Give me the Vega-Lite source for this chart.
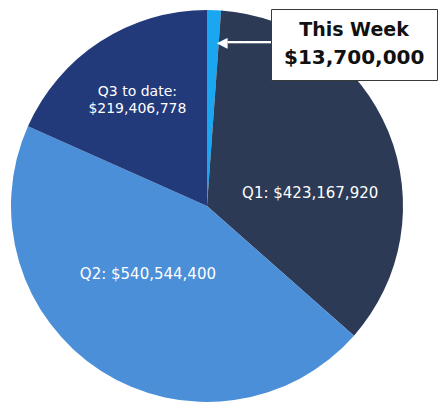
{
  "$schema": "https://vega.github.io/schema/vega-lite/v6.json",
  "width": 440,
  "height": 406,
  "autosize": {"type": "fit", "contains": "padding"},
  "padding": {"left": -25, "right": 1, "top": 7, "bottom": 1},
  "background": "white",
  "config": {"view": {"stroke": null}},
  "datasets": {
    "slices": [
      {"rank": 1, "quarter": "This Week", "amount": 13700000, "label": "This Week: $13,700,000"},
      {"rank": 2, "quarter": "Q1", "amount": 423167920, "label": "Q1: $423,167,920"},
      {"rank": 3, "quarter": "Q2", "amount": 540544400, "label": "Q2: $540,544,400"},
      {"rank": 4, "quarter": "Q3", "amount": 219406778, "label": "Q3 to date:\n$219,406,778"}
    ],
    "note": [{"note": "$13,700,000"}]
  },
  "layer": [
    {
      "data": {"name": "slices"},
      "mark": {"type": "arc", "outerRadius": 196, "stroke": null},
      "encoding": {
        "theta": {"field": "amount", "type": "quantitative", "stack": true},
        "order": {"field": "rank", "type": "quantitative"},
        "color": {
          "field": "quarter",
          "type": "nominal",
          "scale": {"domain": ["This Week", "Q1", "Q2", "Q3"], "range": ["#1aa6f0", "#2c3a56", "#4a8fd8", "#22397a"]},
          "legend": null
        }
      }
    },
    {
      "data": {"name": "slices"},
      "mark": {"type": "text", "radius": 105, "dx": 6, "dy": 27, "font": "DejaVu Sans", "fontSize": 15, "color": "white", "align": "center", "baseline": "middle"},
      "encoding": {
        "theta": {"field": "amount", "type": "quantitative", "stack": true},
        "order": {"field": "rank", "type": "quantitative"},
        "text": {"condition": {"test": "datum.quarter === 'Q1'", "field": "label"}, "value": ""}
      }
    },
    {
      "data": {"name": "slices"},
      "mark": {"type": "text", "radius": 89, "dx": -11, "dy": -7, "font": "DejaVu Sans", "fontSize": 15, "color": "white", "align": "center", "baseline": "middle"},
      "encoding": {
        "theta": {"field": "amount", "type": "quantitative", "stack": true},
        "order": {"field": "rank", "type": "quantitative"},
        "text": {"condition": {"test": "datum.quarter === 'Q2'", "field": "label"}, "value": ""}
      }
    },
    {
      "data": {"name": "slices"},
      "mark": {"type": "text", "radius": 126, "dx": -1, "dy": -8, "font": "DejaVu Sans", "fontSize": 14, "lineHeight": 17, "lineBreak": "\n", "color": "white", "align": "center", "baseline": "middle"},
      "encoding": {
        "theta": {"field": "amount", "type": "quantitative", "stack": true},
        "order": {"field": "rank", "type": "quantitative"},
        "text": {"condition": {"test": "datum.quarter === 'Q3'", "field": "label"}, "value": ""}
      }
    },
    {
      "data": {"name": "slices"},
      "mark": {"type": "text", "radius": 163, "dx": 4, "font": "DejaVu Sans", "fontSize": 14, "color": "white", "align": "left", "baseline": "middle"},
      "encoding": {
        "theta": {"field": "amount", "type": "quantitative", "stack": true},
        "order": {"field": "rank", "type": "quantitative"},
        "text": {"condition": {"test": "datum.quarter === 'This Week'", "value": "◀━━━━━━"}, "value": ""}
      }
    },
    {
      "data": {"name": "note"},
      "mark": {"type": "point", "opacity": 0},
      "encoding": {
        "shape": {
          "field": "note",
          "type": "nominal",
          "legend": {
            "title": "This Week",
            "orient": "top-right",
            "offset": 2,
            "padding": 12,
            "fillColor": "white",
            "strokeColor": "#3a3a3a",
            "titleFont": "DejaVu Sans",
            "titleFontSize": 19,
            "titleFontWeight": "bold",
            "titleColor": "#111111",
            "titleAnchor": "middle",
            "titleAlign": "center",
            "titlePadding": 8,
            "titleLimit": 400,
            "labelFont": "DejaVu Sans",
            "labelFontSize": 20,
            "labelFontWeight": "bold",
            "labelColor": "#111111",
            "labelLimit": 400,
            "labelOffset": -19,
            "symbolSize": 0.01,
            "symbolOpacity": 0,
            "symbolStrokeWidth": 0.01,
            "encode": {"legend": {"update": {"strokeWidth": {"value": 2.5}}}}
          }
        }
      }
    }
  ]
}
